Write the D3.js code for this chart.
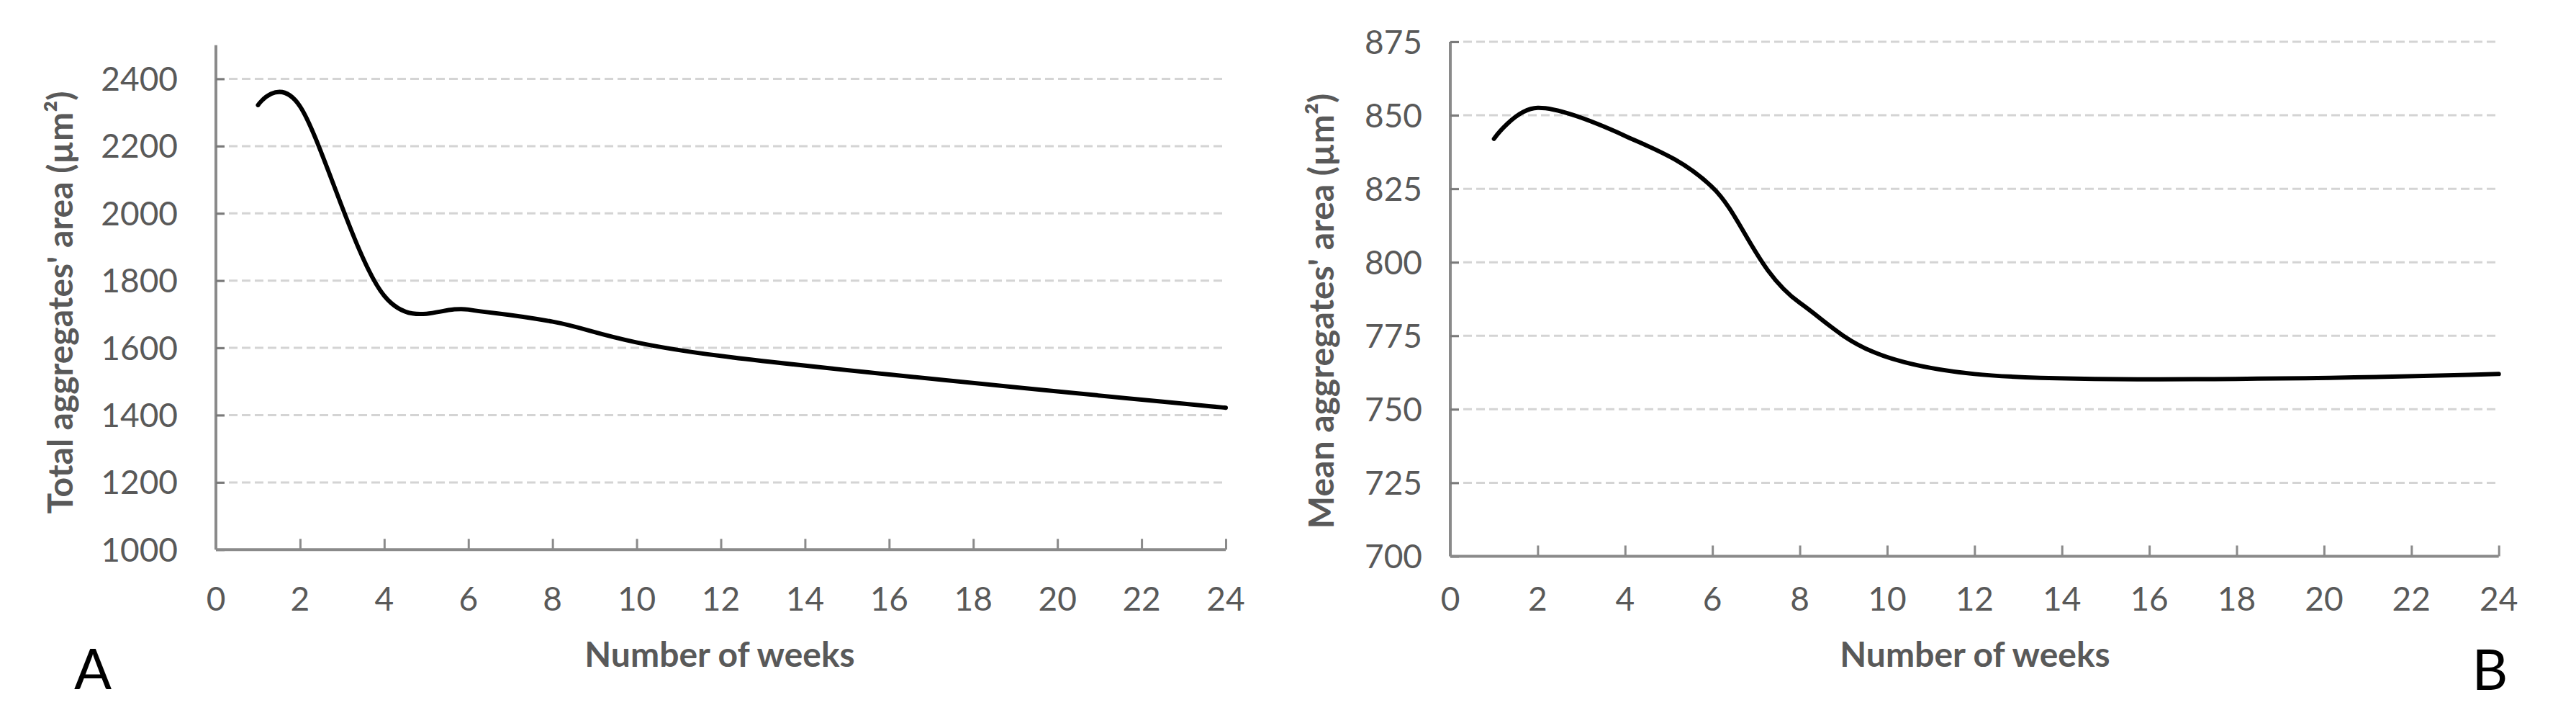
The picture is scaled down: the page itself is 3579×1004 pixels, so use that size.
<!DOCTYPE html>
<html><head><meta charset="utf-8">
<script src="https://cdn.jsdelivr.net/npm/d3@7/dist/d3.min.js"></script>
<style>body{margin:0;background:#fff}svg{display:block}</style>
</head><body>
<svg id="chart" width="3579" height="1004"></svg>
<script>
// ---- data ----
const weeks = [1, 2, 4, 6, 8, 12, 24];
const totalArea = [2322, 2318, 1755, 1714, 1678, 1576, 1422];
const meanArea = [842, 852.5, 843, 825.5, 786.2, 762, 762];
const xTickValues = [0, 2, 4, 6, 8, 10, 12, 14, 16, 18, 20, 22, 24];
const yTicksA = [1000, 1200, 1400, 1600, 1800, 2000, 2200, 2400];
const yTicksB = [700, 725, 750, 775, 800, 825, 850, 875];
const xTitle = "Number of weeks";
const yTitleA = "Total aggregates' area (\u00B5m\u00B2)";
const yTitleB = "Mean aggregates' area (\u00B5m\u00B2)";
const panelLetters = ["A", "B"];

// ---- layout ----
const FONT = "Lato, 'Open Sans', sans-serif";
const GRAY_TXT = "#595959";
const AXIS_COL = "#8a8a8a";
const GRID_COL = "#d4d4d4";

const panels = [
  { values: totalArea, yTicks: yTicksA, yDomain: [1000, 2500], xRange: [300, 1703], yRange: [763.3, 62.8],
    yTitle: yTitleA, yTitleX: 101, yTitleY: 420, yLabelRight: 247, xTitleX: 1000, letter: panelLetters[0], letterX: 129, letterY: 957 },
  { values: meanArea, yTicks: yTicksB, yDomain: [700, 875], xRange: [2015, 3471.7], yRange: [772.5, 58],
    yTitle: yTitleB, yTitleX: 1853, yTitleY: 432, yLabelRight: 1976, xTitleX: 2744, letter: panelLetters[1], letterX: 3459.5, letterY: 958 }
];

const svg = d3.select("#chart");

panels.forEach(p => {
  const x = d3.scaleLinear().domain([0, 24]).range(p.xRange);
  const y = d3.scaleLinear().domain(p.yDomain).range(p.yRange);
  const g = svg.append("g");

  // gridlines
  g.selectAll("line.grid").data(p.yTicks.slice(1)).join("line")
    .attr("class", "grid")
    .attr("x1", x(0)).attr("x2", x(24))
    .attr("y1", d => y(d)).attr("y2", d => y(d))
    .attr("stroke", GRID_COL).attr("stroke-width", 3).attr("stroke-dasharray", "12 6");

  // y axis
  const yAxis = d3.axisRight(y).tickValues(p.yTicks).tickSize(12).tickFormat("");
  const ya = g.append("g").attr("transform", `translate(${x(0)},0)`).call(yAxis);
  ya.select(".domain").attr("stroke", AXIS_COL).attr("stroke-width", 4)
    .attr("d", `M0,${y(p.yDomain[1])}V${y(p.yDomain[0])}`);
  ya.selectAll(".tick line").attr("stroke", "#7a7a7a").attr("stroke-width", 3);

  // x axis
  const xAxis = d3.axisTop(x).tickValues(xTickValues).tickSize(15).tickFormat("");
  const xa = g.append("g").attr("transform", `translate(0,${y(p.yDomain[0])})`).call(xAxis);
  xa.select(".domain").attr("stroke", AXIS_COL).attr("stroke-width", 4)
    .attr("d", `M${x(0)},0H${x(24)}`);
  xa.selectAll(".tick line").attr("stroke", AXIS_COL).attr("stroke-width", 3);

  // tick labels
  g.selectAll("text.yl").data(p.yTicks).join("text")
    .attr("class", "yl")
    .attr("x", p.yLabelRight).attr("y", d => y(d) + 16.5)
    .attr("text-anchor", "end")
    .attr("font-family", FONT).attr("font-size", 46).attr("fill", GRAY_TXT)
    .text(d => d);
  g.selectAll("text.xl").data(xTickValues).join("text")
    .attr("class", "xl")
    .attr("x", d => x(d)).attr("y", 848)
    .attr("text-anchor", "middle")
    .attr("font-family", FONT).attr("font-size", 46).attr("fill", GRAY_TXT)
    .text(d => d);

  // axis titles
  g.append("text")
    .attr("x", p.xTitleX).attr("y", 926)
    .attr("text-anchor", "middle")
    .attr("font-family", FONT).attr("font-weight", "bold").attr("font-size", 48).attr("fill", GRAY_TXT)
    .text(xTitle);
  g.append("text")
    .attr("transform", `translate(${p.yTitleX},${p.yTitleY}) rotate(-90)`)
    .attr("text-anchor", "middle")
    .attr("font-family", FONT).attr("font-weight", "bold").attr("font-size", 48).attr("fill", GRAY_TXT)
    .text(p.yTitle);

  // panel letter
  g.append("text")
    .attr("x", p.letterX).attr("y", p.letterY)
    .attr("text-anchor", "middle")
    .attr("font-family", FONT).attr("font-size", 77).attr("fill", "#000")
    .text(p.letter);

  // smoothed line (Excel-like smoothing)
  const line = d3.line()
    .x((d, i) => x(weeks[i]))
    .y(d => y(d))
    .curve(d3.curveCardinal.tension(0));
  g.append("path")
    .datum(p.values)
    .attr("d", line)
    .attr("fill", "none").attr("stroke", "#000").attr("stroke-width", 6)
    .attr("stroke-linecap", "round").attr("stroke-linejoin", "round");
});
</script>
</body></html>
